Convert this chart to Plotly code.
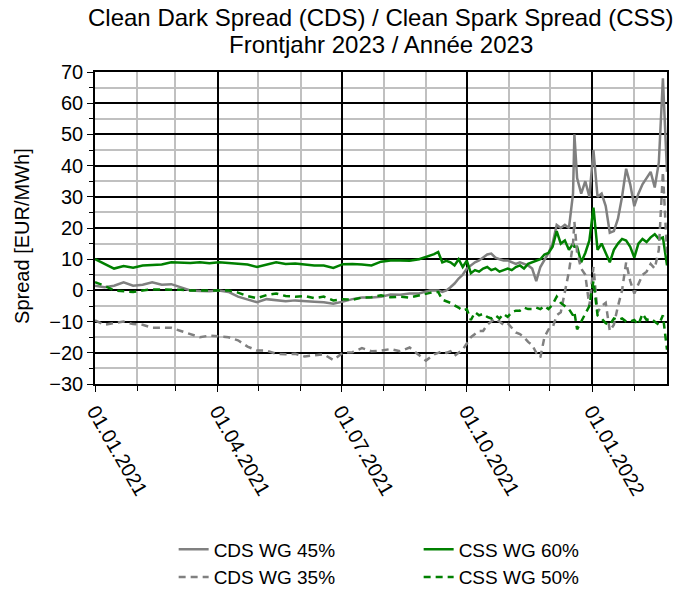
import plotly.graph_objects as go

dates = [
    "2021-01-01", "2021-01-08", "2021-01-15", "2021-01-22", "2021-01-29",
    "2021-02-05", "2021-02-12", "2021-02-19", "2021-02-26",
    "2021-03-05", "2021-03-12", "2021-03-19", "2021-03-26",
    "2021-04-02", "2021-04-09", "2021-04-16", "2021-04-23", "2021-04-30",
    "2021-05-07", "2021-05-14", "2021-05-21", "2021-05-28",
    "2021-06-04", "2021-06-11", "2021-06-18", "2021-06-25",
    "2021-07-02", "2021-07-09", "2021-07-16", "2021-07-23", "2021-07-30",
    "2021-08-06", "2021-08-13", "2021-08-20", "2021-08-27",
    "2021-09-01", "2021-09-04", "2021-09-07", "2021-09-10", "2021-09-13",
    "2021-09-16", "2021-09-19", "2021-09-22", "2021-09-25", "2021-09-28",
    "2021-10-01", "2021-10-04", "2021-10-07", "2021-10-10", "2021-10-13",
    "2021-10-16", "2021-10-19", "2021-10-22", "2021-10-25", "2021-10-28",
    "2021-10-31", "2021-11-03", "2021-11-06", "2021-11-09", "2021-11-12",
    "2021-11-15", "2021-11-18", "2021-11-21", "2021-11-24", "2021-11-27",
    "2021-11-30", "2021-12-03", "2021-12-06", "2021-12-09", "2021-12-12",
    "2021-12-15", "2021-12-18", "2021-12-19", "2021-12-21", "2021-12-24",
    "2021-12-27", "2021-12-30", "2022-01-02", "2022-01-05", "2022-01-08",
    "2022-01-11", "2022-01-14", "2022-01-17", "2022-01-20", "2022-01-23",
    "2022-01-26", "2022-01-29", "2022-02-01", "2022-02-04", "2022-02-07",
    "2022-02-10", "2022-02-13", "2022-02-16", "2022-02-19", "2022-02-22",
    "2022-02-25",
]

cds_45 = [
    1.5, 1.0, 1.5, 2.6, 1.5,
    1.8, 2.6, 1.8, 2.0,
    1.0, 0.0, -0.2, -0.3,
    0.0, -0.5, -2.0, -3.0, -3.8,
    -2.8, -3.2, -3.5, -3.2,
    -3.5, -3.6, -3.8, -4.3,
    -3.6, -2.8, -2.3, -2.3, -2.0,
    -1.3, -1.4, -1.0, -1.0,
    -0.5, 0.0, 0.0, 0.0, -0.5,
    0.0, 1.0, 2.2, 3.8, 5.0,
    7.0, 8.0, 9.0, 9.6, 10.5,
    11.5, 11.8, 10.5, 10.0, 9.6,
    9.6, 9.0, 8.5, 9.0, 8.5,
    8.0, 7.0, 3.0, 7.5, 9.6,
    12.0, 15.0, 21.0, 20.0, 21.0,
    20.0, 31.0, 50.0, 36.0, 31.0,
    35.0, 30.0, 45.0, 30.0, 31.0,
    27.0, 18.5, 19.0, 23.0, 30.0,
    39.0, 34.0, 27.0, 31.0, 34.0,
    36.0, 38.0, 33.0, 41.0, 68.0,
    38.0,
]

cds_35 = [
    -9.6, -11.0, -10.5, -10.0, -10.8,
    -11.0, -12.0, -12.0, -12.0,
    -13.0, -14.0, -15.0, -14.5,
    -14.7, -15.0, -16.0, -18.0, -19.3,
    -19.3, -20.3, -20.5, -20.3,
    -21.2, -20.8, -20.5, -22.3,
    -20.0, -19.8, -18.5, -19.5, -19.3,
    -18.8, -19.5, -18.3, -20.8,
    -22.5, -21.5, -20.5, -20.0, -19.5,
    -20.0, -19.5, -21.0, -20.0, -19.0,
    -17.0, -15.0, -14.0, -13.0, -13.0,
    -11.0, -10.0, -9.0, -10.0, -11.0,
    -10.5, -12.0, -13.5, -14.0, -15.0,
    -16.5, -17.5, -20.0, -21.5, -15.0,
    -12.5, -12.0, -8.0, -7.0, 0.0,
    6.0, 15.0, 22.0, 12.0, 7.0,
    5.0, -5.0, 7.5, -7.0, -5.0,
    -4.0, -13.0, -11.0, -5.0, 0.0,
    9.0, 3.0, -1.0, 2.0, 5.0,
    6.0, 8.5, 7.0, 13.0, 38.0,
    12.0,
]

css_60 = [
    10.0, 8.6, 7.0, 7.8, 7.3,
    8.0, 8.2, 8.3, 9.0,
    8.8, 8.8, 9.0, 8.7,
    9.0, 8.7, 8.6, 8.3, 7.5,
    8.3, 9.0, 8.5, 8.6,
    8.3, 8.0, 8.0, 7.2,
    8.4, 8.5, 8.3, 8.0, 9.2,
    9.6, 9.6, 9.5, 10.0,
    10.7, 11.2, 11.6, 12.3, 9.0,
    9.5, 9.0, 8.0, 10.0, 7.5,
    9.5, 5.5, 6.5, 6.0, 7.0,
    7.5, 6.5, 7.0, 6.0, 6.5,
    7.0, 6.5, 7.5, 8.0, 7.0,
    8.5, 9.0, 9.5, 10.0, 11.5,
    12.0, 14.0, 19.0, 15.0, 16.0,
    13.0, 15.0, 14.0, 14.0, 9.0,
    12.0, 16.0, 26.5, 13.0, 15.0,
    12.0, 9.0, 13.0, 15.0, 16.5,
    16.0, 14.0, 10.5, 15.0, 16.5,
    15.5, 17.0, 18.0, 16.5, 17.0,
    8.0,
]

css_50 = [
    2.6, 1.5, 0.0, -0.3, -0.5,
    0.0, 0.3, 0.3, 0.3,
    0.2, 0.0, 0.0, 0.0,
    0.0, 0.0, -0.7, -1.8, -2.5,
    -1.5, -1.0, -1.8, -2.0,
    -1.8, -2.5, -2.0, -3.2,
    -2.8, -3.0, -2.3, -2.2, -1.6,
    -2.2, -2.0, -2.3, -1.5,
    -1.0, -0.8, -0.5, -0.5, -3.0,
    -3.5, -4.0, -4.8, -5.5, -6.5,
    -6.0, -9.5, -7.0, -8.0, -7.5,
    -8.5, -9.0, -8.0, -9.0, -7.5,
    -8.5, -7.0, -6.5, -6.5, -5.5,
    -6.0, -6.0, -5.5, -6.0, -5.0,
    -6.0, -4.5, -2.0, -4.0, -5.0,
    -6.0, -8.0, -7.0, -12.5, -10.0,
    -8.0, -5.0, 3.0, -8.0, -9.0,
    -10.5, -11.0, -9.0, -9.5, -9.0,
    -10.0, -10.0, -9.5, -11.0, -7.5,
    -9.5, -9.0, -10.0, -11.0, -8.0,
    -19.0,
]

series = [
    ("CDS WG 45%", cds_45, "#808080", "solid"),
    ("CSS WG 60%", css_60, "#008000", "solid"),
    ("CDS WG 35%", cds_35, "#808080", "7px,5px"),
    ("CSS WG 50%", css_50, "#008000", "7px,5px"),
]

title_lines = ["Clean Dark Spread (CDS) / Clean Spark Spread (CSS)",
               "Frontjahr 2023 / Année 2023"]
y_label = "Spread [EUR/MWh]"
font_family = "Liberation Sans, Arial, sans-serif"

fig = go.Figure()
for name, vals, color, dash in series:
    fig.add_trace(go.Scatter(
        x=dates, y=vals, mode="lines", name=name,
        line=dict(color=color, width=2.5, dash=dash),
    ))

# title lines and y-axis label as annotations (paper coords)
title_y = [1.1755, 1.089]
for txt, ty in zip(title_lines, title_y):
    fig.add_annotation(text=txt, xref="paper", yref="paper", x=0.5, y=ty,
                       xanchor="center", yanchor="middle", showarrow=False,
                       font=dict(size=24, family=font_family, color="black"))
fig.add_annotation(text=y_label, xref="paper", yref="paper", x=-0.128, y=0.474,
                   xanchor="center", yanchor="middle", showarrow=False,
                   textangle=-90,
                   font=dict(size=20, family=font_family, color="black"))

fig.update_layout(
    width=700, height=592,
    margin=dict(l=95, r=33, t=72, b=208, autoexpand=False),
    paper_bgcolor="white", plot_bgcolor="white",
    font=dict(family=font_family, size=16, color="black"),
    showlegend=True,
    legend=dict(orientation="h", x=0.1375, xanchor="left", y=-0.469, yanchor="top",
                entrywidth=200, entrywidthmode="pixels",
                font=dict(size=19, family=font_family), traceorder="normal",
                bgcolor="rgba(0,0,0,0)"),
)

fig.update_xaxes(
    type="date", range=["2021-01-01", "2022-02-25"],
    tick0="2021-01-01", dtick="M3", tickformat="%d.%m.%Y",
    tickangle=60, ticks="outside", ticklen=6, tickcolor="black",
    showgrid=True, gridcolor="black", gridwidth=1.5,
    showline=True, linecolor="black", linewidth=1.5, mirror=True,
    tickfont=dict(size=20), automargin=False,
    minor=dict(dtick="M1", tick0="2021-01-01", showgrid=True,
               gridcolor="#c0c0c0", gridwidth=2, ticks="outside", ticklen=5,
               tickcolor="black"),
    zeroline=False,
)
fig.update_yaxes(
    range=[-30, 70], dtick=10, tick0=0,
    ticks="outside", ticklen=6, tickcolor="black",
    showgrid=True, gridcolor="black", gridwidth=1.5,
    showline=True, linecolor="black", linewidth=1.5, mirror=True,
    zeroline=True, zerolinecolor="black", zerolinewidth=2,
    tickfont=dict(size=20), automargin=False,
    minor=dict(dtick=5, showgrid=True, gridcolor="#c0c0c0", gridwidth=2,
               ticks="outside", ticklen=4, tickcolor="black"),
)

# remove the default 8px page margin so the 700x592 figure fills the window
fig.write_html("out.html",
               config={"displayModeBar": False},
               post_script="document.body.style.margin='0';"
                           "document.body.style.overflow='hidden';")
